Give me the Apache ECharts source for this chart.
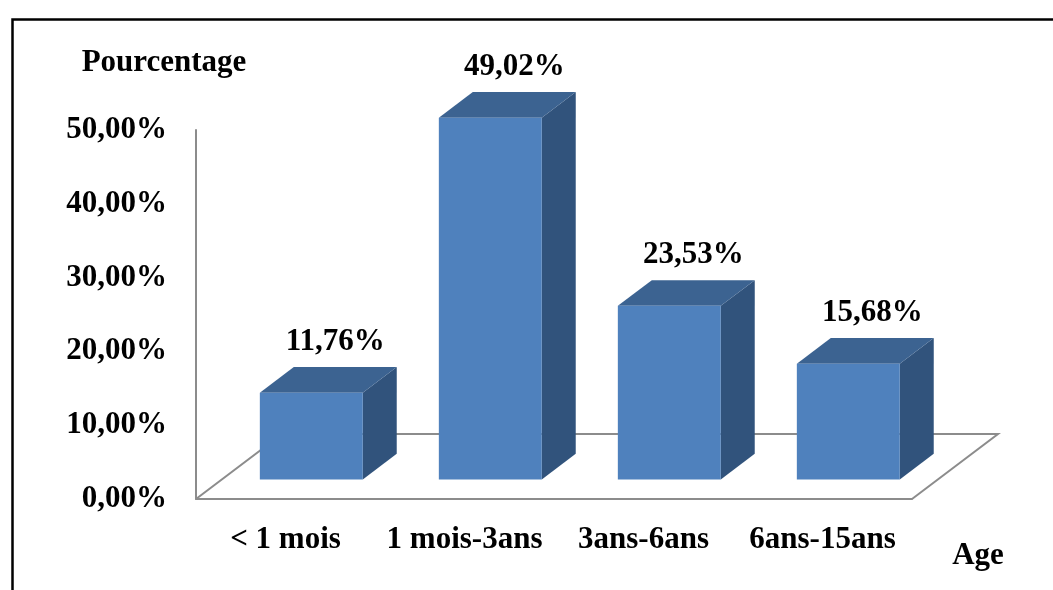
<!DOCTYPE html>
<html>
<head>
<meta charset="utf-8">
<script src="https://cdn.jsdelivr.net/npm/echarts@6/dist/echarts.min.js"></script>
<style>
  html, body { margin: 0; padding: 0; background: #ffffff; }
  #chart { width: 1053px; height: 590px; }
</style>
</head>
<body>
<div id="chart"></div>
<script>
// Age groups and their share of cases (percent)
const categories = ['< 1 mois', '1 mois-3ans', '3ans-6ans', '6ans-15ans'];
const percentages = [11.76, 49.02, 23.53, 15.68];
const yTicks = [0, 10, 20, 30, 40, 50];

// 3D look: floor depth in pixels and where each bar sits inside that depth
const DEPTH_X = 86, DEPTH_Y = 65;
const FRONT_T = 0.30, BACK_T = 0.695;
const BAR_RATIO = 0.575;

const FONT = '"Liberation Serif", "Times New Roman", serif';
const FRONT_COLOR = '#4F81BD';
const TOP_COLOR = '#3C6391';
const SIDE_COLOR = '#31537C';
const FLOOR_COLOR = '#8C8C8C';

function fmt(v) {
  return v.toFixed(2).replace('.', ',') + '%';
}

function renderFloor(params, api) {
  const cs = params.coordSys;
  const xl = cs.x, xr = cs.x + cs.width, yb = cs.y + cs.height;
  const style = { stroke: FLOOR_COLOR, lineWidth: 2, fill: null };
  return {
    type: 'group',
    children: [
      { type: 'polyline', shape: { points: [[xl, yb], [xl + DEPTH_X, yb - DEPTH_Y], [xr + DEPTH_X, yb - DEPTH_Y], [xr, yb]] }, style: style }
    ]
  };
}

function renderBar(params, api) {
  const cat = api.value(0), val = api.value(1);
  const base = api.coord([cat, 0]);
  const top = api.coord([cat, val]);
  const band = api.size([1, 0])[0];
  const w = band * BAR_RATIO;
  const ox = DEPTH_X * FRONT_T, oy = DEPTH_Y * FRONT_T;
  const dx = DEPTH_X * (BACK_T - FRONT_T), dy = DEPTH_Y * (BACK_T - FRONT_T);
  const x0 = base[0] - w / 2 + ox, x1 = x0 + w;
  const yb = base[1] - oy, yt = top[1] - oy;
  return {
    type: 'group',
    children: [
      { type: 'polygon', shape: { points: [[x1, yt], [x1 + dx, yt - dy], [x1 + dx, yb - dy], [x1, yb]] }, style: { fill: SIDE_COLOR } },
      { type: 'polygon', shape: { points: [[x0, yt], [x0 + dx, yt - dy], [x1 + dx, yt - dy], [x1, yt]] }, style: { fill: TOP_COLOR } },
      { type: 'rect', shape: { x: x0, y: yt, width: w, height: yb - yt }, style: { fill: FRONT_COLOR } },
      { type: 'text', x: x0 + w / 2 + 24, y: yt - dy - 25,
        style: { text: fmt(val), font: 'bold 31px ' + FONT, fill: '#000', align: 'center', verticalAlign: 'middle' } }
    ]
  };
}

const chart = echarts.init(document.getElementById('chart'), null, { renderer: 'canvas' });
chart.setOption({
  animation: false,
  backgroundColor: '#ffffff',
  grid: { left: 196, right: 141, top: 130, bottom: 91 },
  xAxis: {
    type: 'category',
    data: categories,
    boundaryGap: true,
    axisLine: { show: true, lineStyle: { color: FLOOR_COLOR, width: 2 } },
    axisTick: { show: false },
    axisLabel: { margin: 25, color: '#000', fontFamily: FONT, fontWeight: 'bold', fontSize: 31, interval: 0 },
    splitLine: { show: false }
  },
  yAxis: {
    type: 'value',
    min: yTicks[0],
    max: yTicks[yTicks.length - 1],
    interval: 10,
    axisLine: { show: true, lineStyle: { color: FLOOR_COLOR, width: 2 } },
    axisTick: { show: false },
    splitLine: { show: false },
    axisLabel: { margin: 29, color: '#000', fontFamily: FONT, fontWeight: 'bold', fontSize: 31, formatter: v => fmt(v) }
  },
  graphic: [
    { type: 'rect', left: 10, top: 17, shape: { x: 0, y: 0, width: 1100, height: 640 }, style: { fill: null, stroke: '#000', lineWidth: 2.5 }, z: 0, silent: true },
    { type: 'text', x: 164, y: 63, style: { text: 'Pourcentage', font: 'bold 31px ' + FONT, fill: '#000', align: 'center', verticalAlign: 'middle' } },
    { type: 'text', x: 978, y: 556, style: { text: 'Age', font: 'bold 31px ' + FONT, fill: '#000', align: 'center', verticalAlign: 'middle' } }
  ],
  series: [
    { type: 'custom', name: 'floor', renderItem: renderFloor, data: [[0, 0]], silent: true, z: 1, clip: false },
    { type: 'custom', name: 'Pourcentage', renderItem: renderBar, data: categories.map((c, i) => [i, percentages[i]]), z: 2, clip: false,
      encode: { x: 0, y: 1 } }
  ]
});
</script>
</body>
</html>
